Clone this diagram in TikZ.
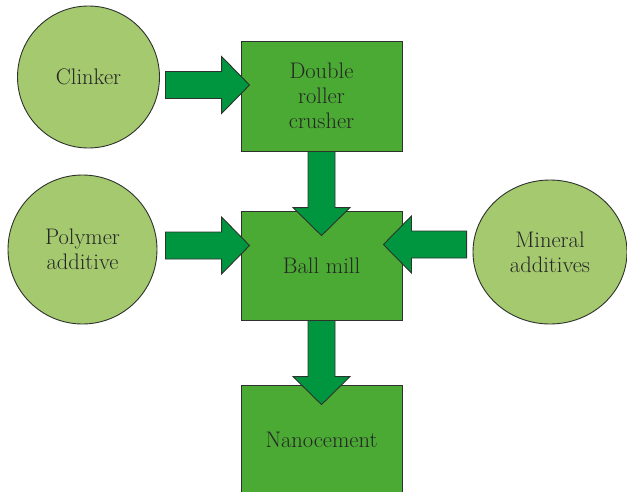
\documentclass[tikz,border=0pt]{standalone}
\usepackage{tikz}
\usetikzlibrary{calc,shapes.geometric}
\definecolor{stepgreen}{RGB}{74,170,52}
\definecolor{feedgreen}{RGB}{165,201,111}
\definecolor{flowgreen}{RGB}{0,150,64}
\definecolor{edgegrey}{RGB}{45,50,45}
\newcommand{\shafthalf}{13.5pt}
\newcommand{\headhalf}{28.5pt}
\newcommand{\headlen}{28pt}
% block arrow from #1 to the tip #2
\newcommand{\flowarrow}[2]{%
    \coordinate (head) at ($(#2)!\headlen!(#1)$);
    \draw[flow] ($(#1)!\shafthalf!90:(#2)$) -- ($(head)!\shafthalf!90:(#2)$)
        -- ($(head)!\headhalf!90:(#2)$) -- (#2) -- ($(head)!\headhalf!-90:(#2)$)
        -- ($(head)!\shafthalf!-90:(#2)$) -- ($(#1)!\shafthalf!-90:(#2)$) -- cycle;
}

\begin{document}
\begin{tikzpicture}[x=1pt, y=-1pt,
    feed/.style={draw=edgegrey, line width=0.9pt, fill=feedgreen, ellipse, inner sep=0pt,
        align=center, text=black!85, font=\fontsize{22.5}{25}\selectfont},
    stepbox/.style={draw=edgegrey, line width=0.9pt, fill=stepgreen, rectangle,
        minimum width=161pt, minimum height=110pt, align=center, text=black!85,
        font=\fontsize{22.5}{25}\selectfont},
    flow/.style={draw=edgegrey, line width=0.9pt, fill=flowgreen, line join=miter}]
    \useasboundingbox (0,0) rectangle (627,491);
    \clip (0,0) rectangle (627,491);

    % Inputs
    \node[feed, minimum width=142pt, minimum height=142pt] (clinker) at (88.5, 77) {Clinker};
    \node[feed, minimum width=149pt, minimum height=149pt] (polymer) at (82.5, 249.5) {Polymer\\additive};
    \node[feed, minimum width=154pt, minimum height=144pt] (mineral) at (550, 252) {Mineral\\additives};

    % Process steps
    \node[stepbox] (crusher) at (321.5, 96) {Double\\roller\\crusher};
    \node[stepbox, minimum height=109pt] (ballmill) at (321.5, 265.5) {Ball mill};
    \node[stepbox] (nanocement) at (321.5, 440) {Nanocement};

    % Arrow ends
    \coordinate (clinker-out) at ([xshift=5.5pt, yshift=-8pt]clinker.east);
    \coordinate (crusher-in) at ([xshift=9pt, yshift=11pt]crusher.west);
    \coordinate (ballmill-top) at ([yshift=-25pt]ballmill.north);
    \coordinate (polymer-out) at ([xshift=8pt, yshift=4pt]polymer.east);
    \coordinate (ballmill-left) at ([xshift=9pt, yshift=20pt]ballmill.west);
    \coordinate (mineral-out) at ([xshift=-6pt, yshift=7.5pt]mineral.west);
    \coordinate (ballmill-right) at ([xshift=-19pt, yshift=21pt]ballmill.east);
    \coordinate (nanocement-top) at ([yshift=-20pt]nanocement.north);

    % Flow
    \flowarrow{clinker-out}{crusher-in}
    \flowarrow{crusher.south}{ballmill-top}
    \flowarrow{polymer-out}{ballmill-left}
    \flowarrow{mineral-out}{ballmill-right}
    \flowarrow{ballmill.south}{nanocement-top}

\end{tikzpicture}
\end{document}
